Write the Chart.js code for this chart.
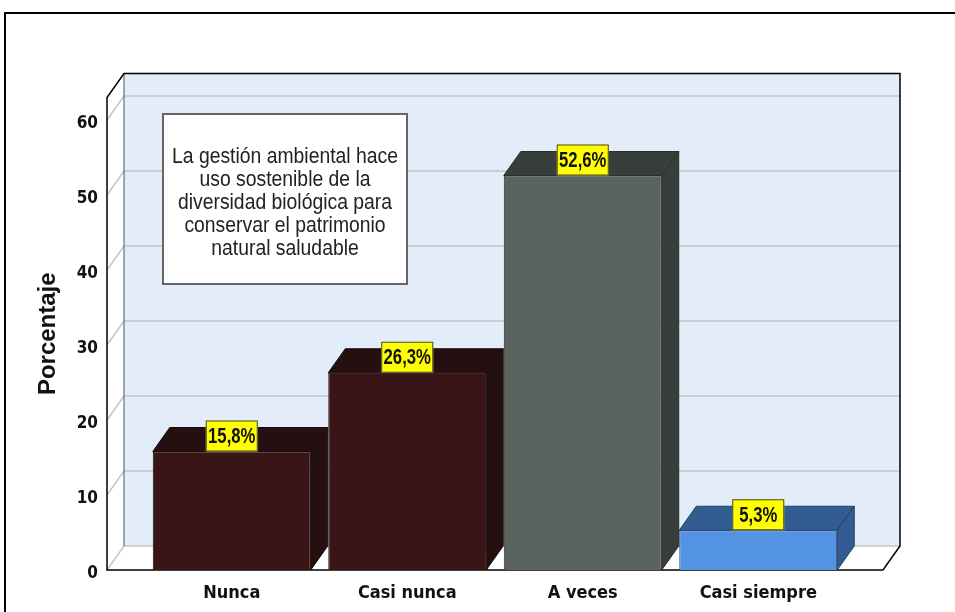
<!DOCTYPE html>
<html>
<head>
<meta charset="utf-8">
<script src="https://cdn.jsdelivr.net/npm/chart.js@4.4.1/dist/chart.umd.min.js"></script>
<style>
  body { margin: 0; background: #fff; }
  canvas { display: block; }
</style>
</head>
<body>
<canvas id="chartPorcentaje" width="955" height="612"></canvas>
<script>
const categorias = ['Nunca', 'Casi nunca', 'A veces', 'Casi siempre'];
const porcentajes = [15.8, 26.3, 52.6, 5.3];
const ticksY = [0, 10, 20, 30, 40, 50, 60];
const tituloCaja = [
  'La gestión ambiental hace',
  'uso sostenible de la',
  'diversidad biológica para',
  'conservar el patrimonio',
  'natural saludable'
];

const coloresFrente = ['#3a1515', '#3a1515', '#5a635e', '#5293e3'];
const coloresLado = ['#241010', '#241010', '#383e3a', '#335c92'];
const coloresBorde = ['#1a0a0a', '#1a0a0a', '#2a2e2b', '#243f66'];

const narrow = "'DejaVu Sans Condensed', 'Liberation Sans', sans-serif";
const sans = "'Liberation Sans', Arial, sans-serif";

// profundidad del efecto 3D
const dx = 17;
const dy = 24;
const pad = 37;

// texto comprimido a lo ancho (el original se ve estrecho)
function textoEstrecho(ctx, txt, x, y, esc) {
  ctx.save();
  ctx.translate(x, y);
  ctx.scale(esc, 1);
  ctx.fillText(txt, 0, 0);
  ctx.restore();
}

const marco3d = {
  id: 'marco3d',
  beforeDraw(chart) {
    const ctx = chart.ctx;
    ctx.save();
    ctx.strokeStyle = '#000';
    ctx.lineWidth = 2;
    ctx.beginPath();
    ctx.moveTo(5, 613);
    ctx.lineTo(5, 13);
    ctx.lineTo(956, 13);
    ctx.stroke();
    ctx.restore();
  },
  beforeDatasetsDraw(chart) {
    const { ctx, chartArea: a, scales: { y } } = chart;
    const L = a.left - pad, R = a.right + pad;
    const B = y.getPixelForValue(0), T = a.top;
    ctx.save();
    // pared del fondo
    ctx.fillStyle = '#e2edf9';
    ctx.fillRect(L + dx, T - dy, R - L, B - T);
    // piso
    ctx.fillStyle = '#fff';
    ctx.beginPath();
    ctx.moveTo(L, B); ctx.lineTo(R, B); ctx.lineTo(R + dx, B - dy); ctx.lineTo(L + dx, B - dy);
    ctx.closePath(); ctx.fill();
    // pared izquierda
    ctx.beginPath();
    ctx.moveTo(L, B); ctx.lineTo(L + dx, B - dy); ctx.lineTo(L + dx, T - dy); ctx.lineTo(L, T);
    ctx.closePath(); ctx.fill();

    ctx.strokeStyle = '#c2c5ca';
    ctx.lineWidth = 1.5;
    ticksY.forEach(v => {
      const py = y.getPixelForValue(v);
      ctx.beginPath();
      ctx.moveTo(L, py);
      ctx.lineTo(L + dx, py - dy);
      ctx.lineTo(R + dx, py - dy);
      ctx.stroke();
    });

    ctx.strokeStyle = '#555';
    ctx.lineWidth = 1;
    ctx.beginPath();
    ctx.moveTo(L + dx, T - dy); ctx.lineTo(L + dx, B - dy);
    ctx.stroke();

    ctx.strokeStyle = '#000';
    ctx.lineWidth = 1.5;
    ctx.beginPath();
    ctx.moveTo(L, T); ctx.lineTo(L, B); ctx.lineTo(R, B);
    ctx.lineTo(R + dx, B - dy); ctx.lineTo(R + dx, T - dy);
    ctx.lineTo(L + dx, T - dy); ctx.closePath();
    ctx.stroke();
    ctx.restore();
  },
  afterDatasetsDraw(chart) {
    const { ctx, chartArea: a } = chart;
    const meta = chart.getDatasetMeta(0);
    ctx.save();
    meta.data.forEach((bar, i) => {
      const l = bar.x - bar.width / 2, r = bar.x + bar.width / 2;
      ctx.fillStyle = coloresLado[i];
      ctx.strokeStyle = coloresBorde[i];
      ctx.lineWidth = 1;
      ctx.beginPath();
      ctx.moveTo(l, bar.y); ctx.lineTo(l + dx, bar.y - dy); ctx.lineTo(r + dx, bar.y - dy); ctx.lineTo(r, bar.y);
      ctx.closePath(); ctx.fill(); ctx.stroke();
      ctx.beginPath();
      ctx.moveTo(r, bar.y); ctx.lineTo(r + dx, bar.y - dy); ctx.lineTo(r + dx, bar.base - dy); ctx.lineTo(r, bar.base);
      ctx.closePath(); ctx.fill(); ctx.stroke();
    });

    // etiquetas amarillas
    ctx.font = 'bold 22px ' + sans;
    ctx.textAlign = 'center';
    ctx.textBaseline = 'middle';
    meta.data.forEach((bar, i) => {
      const txt = porcentajes[i].toFixed(1).replace('.', ',') + '%';
      const w = 52, h = 31;
      ctx.fillStyle = '#ffff00';
      ctx.fillRect(bar.x - w / 2, bar.y - h, w, h);
      ctx.strokeStyle = '#444';
      ctx.lineWidth = 1;
      ctx.strokeRect(bar.x - w / 2 + 0.5, bar.y - h + 0.5, w - 1, h - 1);
      ctx.fillStyle = '#111';
      textoEstrecho(ctx, txt, bar.x, bar.y - h / 2 + 1, 0.76);
    });

    // caja de texto
    const bx = a.left + 19, by = a.top + 16.5, bw = 244, bh = 170;
    ctx.fillStyle = '#fff';
    ctx.fillRect(bx, by, bw, bh);
    ctx.strokeStyle = '#666';
    ctx.lineWidth = 2;
    ctx.strokeRect(bx, by, bw, bh);
    ctx.fillStyle = '#222';
    ctx.font = '22px ' + sans;
    ctx.textBaseline = 'alphabetic';
    tituloCaja.forEach((linea, k) => {
      textoEstrecho(ctx, linea, bx + bw / 2, by + 49 + k * 23, 0.88);
    });
    ctx.restore();
  }
};

const data = {
  labels: categorias,
  datasets: [{
    label: 'Porcentaje',
    data: porcentajes,
    backgroundColor: coloresFrente,
    borderColor: coloresBorde,
    borderWidth: 1,
    categoryPercentage: 0.9,
    barPercentage: 1.0
  }]
};

const config = {
  type: 'bar',
  data: data,
  plugins: [marco3d],
  options: {
    responsive: false,
    devicePixelRatio: 1,
    animation: false,
    layout: {
      padding: { top: 97.5, right: 109, bottom: 6, left: 34 }
    },
    scales: {
      x: {
        grid: { display: false, drawTicks: false },
        border: { display: false },
        ticks: {
          padding: 13,
          color: '#111',
          font: { family: narrow, size: 18, weight: 'bold' }
        },
        afterFit(scale) { scale.height = 36; }
      },
      y: {
        min: 0,
        max: 63,
        grid: { display: false, drawTicks: false },
        border: { display: false },
        afterBuildTicks(scale) {
          scale.ticks = ticksY.map(v => ({ value: v }));
        },
        ticks: {
          padding: 46,
          labelOffset: 4,
          color: '#111',
          font: { family: narrow, size: 17, weight: 'bold' }
        },
        title: {
          display: true,
          text: 'Porcentaje',
          color: '#111',
          padding: { top: 0, bottom: 0 },
          font: { family: sans, size: 24, weight: 'bold' }
        },
        afterFit(scale) {
          scale.width = 110;
          // el padding de los ticks no debe recortar el area del grafico
          scale.paddingTop = 0;
          scale.paddingBottom = 0;
        }
      }
    },
    plugins: {
      legend: { display: false },
      tooltip: { enabled: false }
    }
  }
};

new Chart(document.getElementById('chartPorcentaje'), config);
</script>
</body>
</html>
